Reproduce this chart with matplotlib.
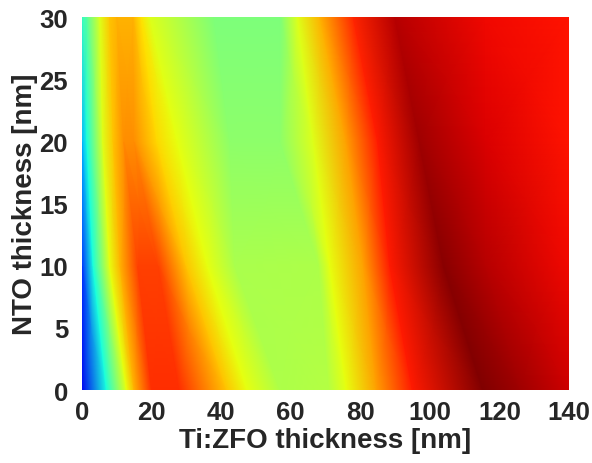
import numpy as np
import matplotlib
matplotlib.use("Agg")
import matplotlib.pyplot as plt

# NTO thickness rows (nm)
NTO_ROWS = [0, 10, 20, 30]

# Ti:ZFO thickness (nm) of matching colour features along each row
TIZFO_Y0 = [0, 7, 12.8, 15, 20, 28, 41.6, 47.4, 57, 71, 76, 84.7, 95, 115.3, 126, 140]
TIZFO_Y10 = [0, 3.2, 8, 11, 16, 22, 30, 36, 44, 68, 71.3, 81, 88.5, 104, 116, 140]
TIZFO_Y20 = [0, 1.4, 6, 9, 12, 15, 21.5, 27.3, 42.5, 57, 66.5, 76, 85, 97, 116, 140]
TIZFO_Y30 = [0, 1.4, 5.2, 8, 10, 14.7, 17, 19.5, 38, 57, 62, 68.4, 78, 90, 116, 140]

# normalised map value at those features
VAL_Y0 = [0.10, 0.38, 0.63, 0.72, 0.86, 0.86, 0.70, 0.63, 0.56, 0.57, 0.63, 0.74, 0.88, 1.00, 0.97, 0.93]
VAL_Y10 = [0.17, 0.38, 0.63, 0.72, 0.84, 0.84, 0.70, 0.63, 0.555, 0.56, 0.63, 0.74, 0.88, 0.99, 0.95, 0.90]
VAL_Y20 = [0.30, 0.38, 0.62, 0.70, 0.76, 0.76, 0.68, 0.63, 0.52, 0.52, 0.62, 0.74, 0.88, 0.97, 0.92, 0.89]
VAL_Y30 = [0.42, 0.45, 0.62, 0.70, 0.72, 0.72, 0.67, 0.62, 0.50, 0.50, 0.62, 0.72, 0.87, 0.95, 0.90, 0.89]

XTICKS = [0, 20, 40, 60, 80, 100, 120, 140]
YTICKS = [0, 5, 10, 15, 20, 25, 30]

FONT = ["Liberation Sans Narrow", "Liberation Sans", "DejaVu Sans"]
plt.rcParams["font.family"] = FONT
plt.rcParams["font.weight"] = "bold"
TXT = "#262626"

X = np.array([TIZFO_Y0, TIZFO_Y10, TIZFO_Y20, TIZFO_Y30])
Y = np.repeat(np.array(NTO_ROWS, dtype=float)[:, None], X.shape[1], axis=1)
C = np.array([VAL_Y0, VAL_Y10, VAL_Y20, VAL_Y30])

fig = plt.figure(figsize=(5.92, 4.64), dpi=100)
ax = fig.add_axes([0.1385, 0.157, 0.8225, 0.804])
ax.pcolormesh(X, Y, C, shading="gouraud", cmap="jet", vmin=0, vmax=1)
ax.set_xlim(0, 140)
ax.set_ylim(0, 30)
ax.set_xticks(XTICKS)
ax.set_yticks(YTICKS)
ax.tick_params(length=0, labelsize=18.5, colors=TXT)
ax.tick_params(axis="x", pad=7)
ax.tick_params(axis="y", pad=10)
for s in ax.spines.values():
    s.set_visible(False)
ax.set_xlabel("Ti:ZFO thickness [nm]", fontsize=20, fontweight="bold",
              color=TXT, labelpad=2)
ax.set_ylabel("NTO thickness [nm]", fontsize=20, fontweight="bold",
              color=TXT, labelpad=1)

fig.savefig("out.png", dpi=100, facecolor="white")
